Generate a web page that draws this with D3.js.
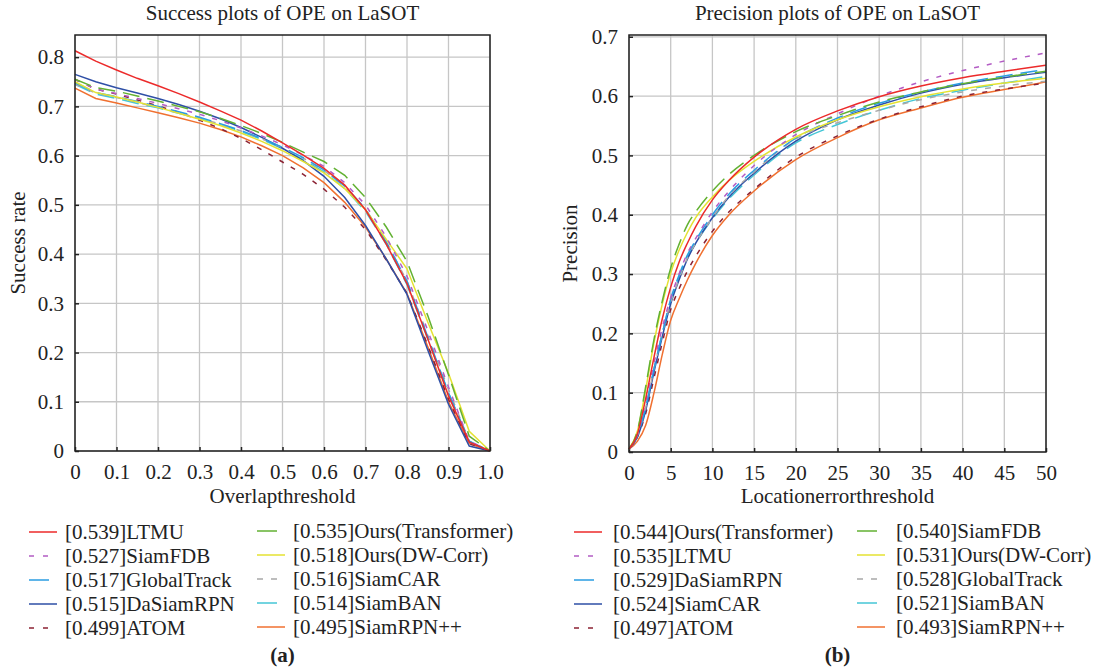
<!DOCTYPE html>
<html>
<head>
<meta charset="utf-8">
<script src="https://cdn.jsdelivr.net/npm/d3@7"></script>
<style>
  body { margin: 0; background: #fff; }
  text { font-family: "Liberation Serif", "Times New Roman", serif; fill: #222; }
</style>
</head>
<body>
<div id="chart"></div>
<script>
// ---- data: success plot (a) ----
var overlapX = [0, 0.05, 0.1, 0.15, 0.2, 0.25, 0.3, 0.35, 0.4, 0.45, 0.5, 0.55, 0.6, 0.65, 0.7, 0.75, 0.8, 0.85, 0.9, 0.95, 1.0]
var successNames = ["LTMU", "Ours(Transformer)", "SiamFDB", "Ours(DW-Corr)", "GlobalTrack", "SiamCAR", "DaSiamRPN", "SiamBAN", "ATOM", "SiamRPN++"]
var successScores = ["0.539", "0.535", "0.527", "0.518", "0.517", "0.516", "0.515", "0.514", "0.499", "0.495"]
var successValues = [
    [.813, .792, .774, .757, .742, .726, .709, .691, .672, .650, .626, .601, .574, .540, .490, .420, .340, .228, .112, .018, 0],
    [.755, .738, .731, .721, .711, .700, .689, .676, .661, .645, .627, .607, .588, .560, .515, .455, .385, .275, .155, .030, 0],
    [.755, .735, .726, .716, .706, .695, .684, .671, .656, .640, .622, .601, .578, .545, .500, .435, .355, .245, .130, .020, 0],
    [.750, .728, .719, .709, .698, .686, .674, .661, .646, .629, .610, .588, .565, .533, .490, .430, .370, .262, .158, .040, 0],
    [.748, .728, .720, .710, .700, .689, .678, .665, .651, .635, .617, .596, .571, .538, .492, .425, .345, .232, .118, .020, 0],
    [.745, .727, .718, .708, .698, .687, .676, .664, .650, .634, .616, .595, .570, .537, .490, .425, .345, .235, .125, .020, 0],
    [.765, .750, .738, .727, .716, .704, .690, .675, .657, .637, .615, .590, .558, .515, .458, .390, .318, .205, .095, .010, 0],
    [.745, .725, .716, .706, .697, .686, .675, .663, .649, .633, .614, .592, .567, .533, .487, .420, .338, .228, .118, .018, 0],
    [.755, .735, .725, .713, .701, .688, .672, .655, .635, .612, .587, .562, .532, .495, .450, .388, .320, .215, .105, .015, 0],
    [.737, .716, .707, .697, .687, .677, .666, .653, .638, .620, .600, .575, .545, .505, .455, .390, .320, .212, .100, .015, 0]
]

// ---- data: precision plot (b) ----
var errorX = [0, 1, 2, 3, 4, 5, 6, 7, 8, 10, 12, 15, 20, 25, 30, 35, 40, 45, 50]
var precisionNames = ["Ours(Transformer)", "SiamFDB", "LTMU", "Ours(DW-Corr)", "DaSiamRPN", "GlobalTrack", "SiamCAR", "SiamBAN", "ATOM", "SiamRPN++"]
var precisionScores = ["0.544", "0.540", "0.535", "0.531", "0.529", "0.528", "0.524", "0.521", "0.497", "0.493"]
var precisionValues = [
    [.005, .030, .090, .160, .225, .278, .320, .352, .380, .425, .458, .497, .544, .575, .599, .617, .631, .642, .652],
    [.005, .035, .110, .190, .255, .310, .350, .383, .405, .440, .468, .500, .540, .567, .590, .607, .621, .632, .642],
    [.005, .030, .085, .150, .210, .260, .300, .335, .360, .405, .440, .483, .535, .570, .600, .624, .643, .659, .673],
    [.005, .035, .105, .185, .250, .302, .340, .370, .395, .430, .458, .490, .531, .560, .582, .599, .612, .622, .630],
    [.005, .028, .075, .140, .200, .258, .298, .332, .357, .400, .435, .475, .529, .563, .588, .607, .622, .634, .645],
    [.005, .028, .075, .140, .200, .252, .292, .327, .352, .395, .432, .472, .528, .555, .576, .594, .607, .617, .625],
    [.005, .025, .070, .135, .195, .250, .290, .325, .352, .395, .430, .470, .524, .560, .585, .605, .620, .631, .640],
    [.005, .028, .075, .140, .200, .255, .295, .328, .352, .393, .427, .467, .521, .552, .576, .596, .610, .622, .633],
    [.005, .025, .065, .125, .185, .240, .275, .305, .330, .372, .405, .443, .497, .533, .561, .582, .600, .612, .622],
    [.005, .018, .045, .100, .165, .222, .258, .290, .318, .365, .400, .440, .493, .530, .560, .580, .598, .611, .624]
]

var successTicksX = ["0", "0.1", "0.2", "0.3", "0.4", "0.5", "0.6", "0.7", "0.8", "0.9", "1.0"]
var successTicksY = [0, 0.1, 0.2, 0.3, 0.4, 0.5, 0.6, 0.7, 0.8]
var precisionTicksX = [0, 5, 10, 15, 20, 25, 30, 35, 40, 45, 50]
var precisionTicksY = [0, 0.1, 0.2, 0.3, 0.4, 0.5, 0.6, 0.7]

// line styles by rank (same slot order in both plots)
var colors = ["#ec2a2a", "#62b132", "#b35cc4", "#e4e232", "#2a9de2", "#a8a8a8", "#2e4fa6", "#44c6d6", "#8c2233", "#f07030"]
var dashes = [null, "17,8", "5,8", null, "17,8", "6,8", null, "17,8", "5,8", null]
// legend swatches: long dashes show as one segment, short dashes as two
var legendDashes = [null, "20,12", "5,9", null, "20,12", "6,8", null, "20,12", "5,9", null]

var fs = 21

var svg = d3.select("#chart")
    .append("svg")
    .attr("width", 1102)
    .attr("height", 672);

function drawPanel(opt) {
    var x = d3.scaleLinear().domain(opt.xDomain).range([opt.left, opt.right]);
    var y = d3.scaleLinear().domain(opt.yDomain).range([opt.bottom, opt.top]);
    var g = svg.append("g");

    // grid
    g.selectAll(".gx").data(opt.xTicks).enter()
        .append("line")
        .attr("x1", function (d) { return x(+d) }).attr("x2", function (d) { return x(+d) })
        .attr("y1", opt.top).attr("y2", opt.bottom)
        .attr("stroke", "#c6c6c6").attr("stroke-width", 1.3)
    g.selectAll(".gy").data(opt.yTicks).enter()
        .append("line")
        .attr("y1", function (d) { return y(d) }).attr("y2", function (d) { return y(d) })
        .attr("x1", opt.left).attr("x2", opt.right)
        .attr("stroke", "#c6c6c6").attr("stroke-width", 1.3)

    // axes, ticks point inward
    g.append("g")
        .attr("transform", "translate(0," + opt.bottom + ")")
        .call(d3.axisBottom(x).tickValues(opt.xTicks.map(Number)).tickSize(-4).tickPadding(13)
            .tickFormat(function (d, i) { return opt.xTicks[i] }))
    g.append("g")
        .attr("transform", "translate(" + opt.left + ",0)")
        .call(d3.axisLeft(y).tickValues(opt.yTicks).tickSize(-4).tickPadding(11)
            .tickFormat(function (d) { return d === 0 ? "0" : d3.format(".1f")(d) }))
    g.selectAll(".domain").remove()
    g.selectAll(".tick line").attr("stroke", "#222").attr("stroke-width", 1.5)
    g.selectAll(".tick text").attr("font-size", fs).attr("font-family", "Liberation Serif").attr("fill", "#222")

    // curves
    var line = d3.line()
        .x(function (d) { return x(d[0]) })
        .y(function (d) { return y(d[1]) })
        .curve(opt.curve)
    g.append("g").selectAll("path")
        .data(opt.values.map(function (v, i) { return i }).reverse())
        .enter()
        .append("path")
        .attr("d", function (i) { return line(opt.xs.map(function (xv, k) { return [xv, opt.values[i][k]] })) })
        .attr("fill", "none")
        .attr("stroke", function (i) { return colors[i] })
        .attr("stroke-dasharray", function (i) { return dashes[i] })
        .attr("stroke-width", 1.5)

    // frame
    g.append("rect")
        .attr("x", opt.left).attr("y", opt.top)
        .attr("width", opt.right - opt.left).attr("height", opt.bottom - opt.top)
        .attr("fill", "none").attr("stroke", "#222").attr("stroke-width", 1.5)

    // title and axis labels
    var cx = (opt.left + opt.right) / 2
    g.append("text").attr("x", cx).attr("y", 20).attr("text-anchor", "middle")
        .attr("font-size", fs).text(opt.title)
    g.append("text").attr("x", cx).attr("y", 503).attr("text-anchor", "middle")
        .attr("font-size", fs).text(opt.xLabel)
    g.append("text").attr("transform", "translate(" + opt.yLabelX + "," + (opt.top + opt.bottom) / 2 + ") rotate(-90)")
        .attr("text-anchor", "middle").attr("font-size", fs).text(opt.yLabel)

    // legend, two columns, row-major
    var leg = g.append("g").selectAll("g")
        .data(opt.names)
        .enter()
        .append("g")
        .attr("transform", function (d, i) {
            var col = i % 2, row = Math.floor(i / 2)
            return "translate(" + opt.legX[col] + "," + (532 + row * 24 - col) + ")"
        })
    leg.append("line")
        .attr("x1", 0).attr("x2", 28).attr("y1", 0).attr("y2", 0)
        .attr("stroke", function (d, i) { return colors[i] })
        .attr("stroke-dasharray", function (d, i) { return legendDashes[i] })
        .attr("stroke-width", 1.5)
    leg.append("text")
        .attr("x", opt.legText).attr("y", 7)
        .attr("font-size", fs)
        .text(function (d, i) { return "[" + opt.scores[i] + "]" + d })

    g.append("text").attr("x", cx).attr("y", 662).attr("text-anchor", "middle")
        .attr("font-size", fs).attr("font-weight", "bold").text(opt.tag)
}

drawPanel({
    left: 75, right: 490, top: 35, bottom: 451,
    xDomain: [0, 1], yDomain: [0, 0.845],
    xTicks: successTicksX, yTicks: successTicksY,
    xs: overlapX, values: successValues, curve: d3.curveLinear,
    names: successNames, scores: successScores,
    title: "Success plots of OPE on LaSOT", xLabel: "Overlapthreshold", yLabel: "Success rate",
    yLabelX: 25, legX: [29, 257], legText: 36, tag: "(a)"
})

drawPanel({
    left: 629, right: 1046, top: 35, bottom: 452,
    xDomain: [0, 50], yDomain: [0, 0.703],
    xTicks: precisionTicksX, yTicks: precisionTicksY,
    xs: errorX, values: precisionValues, curve: d3.curveMonotoneX,
    names: precisionNames, scores: precisionScores,
    title: "Precision plots of OPE on LaSOT", xLabel: "Locationerrorthreshold", yLabel: "Precision",
    yLabelX: 577, legX: [574, 857], legText: 39, tag: "(b)"
})
</script>
</body>
</html>
